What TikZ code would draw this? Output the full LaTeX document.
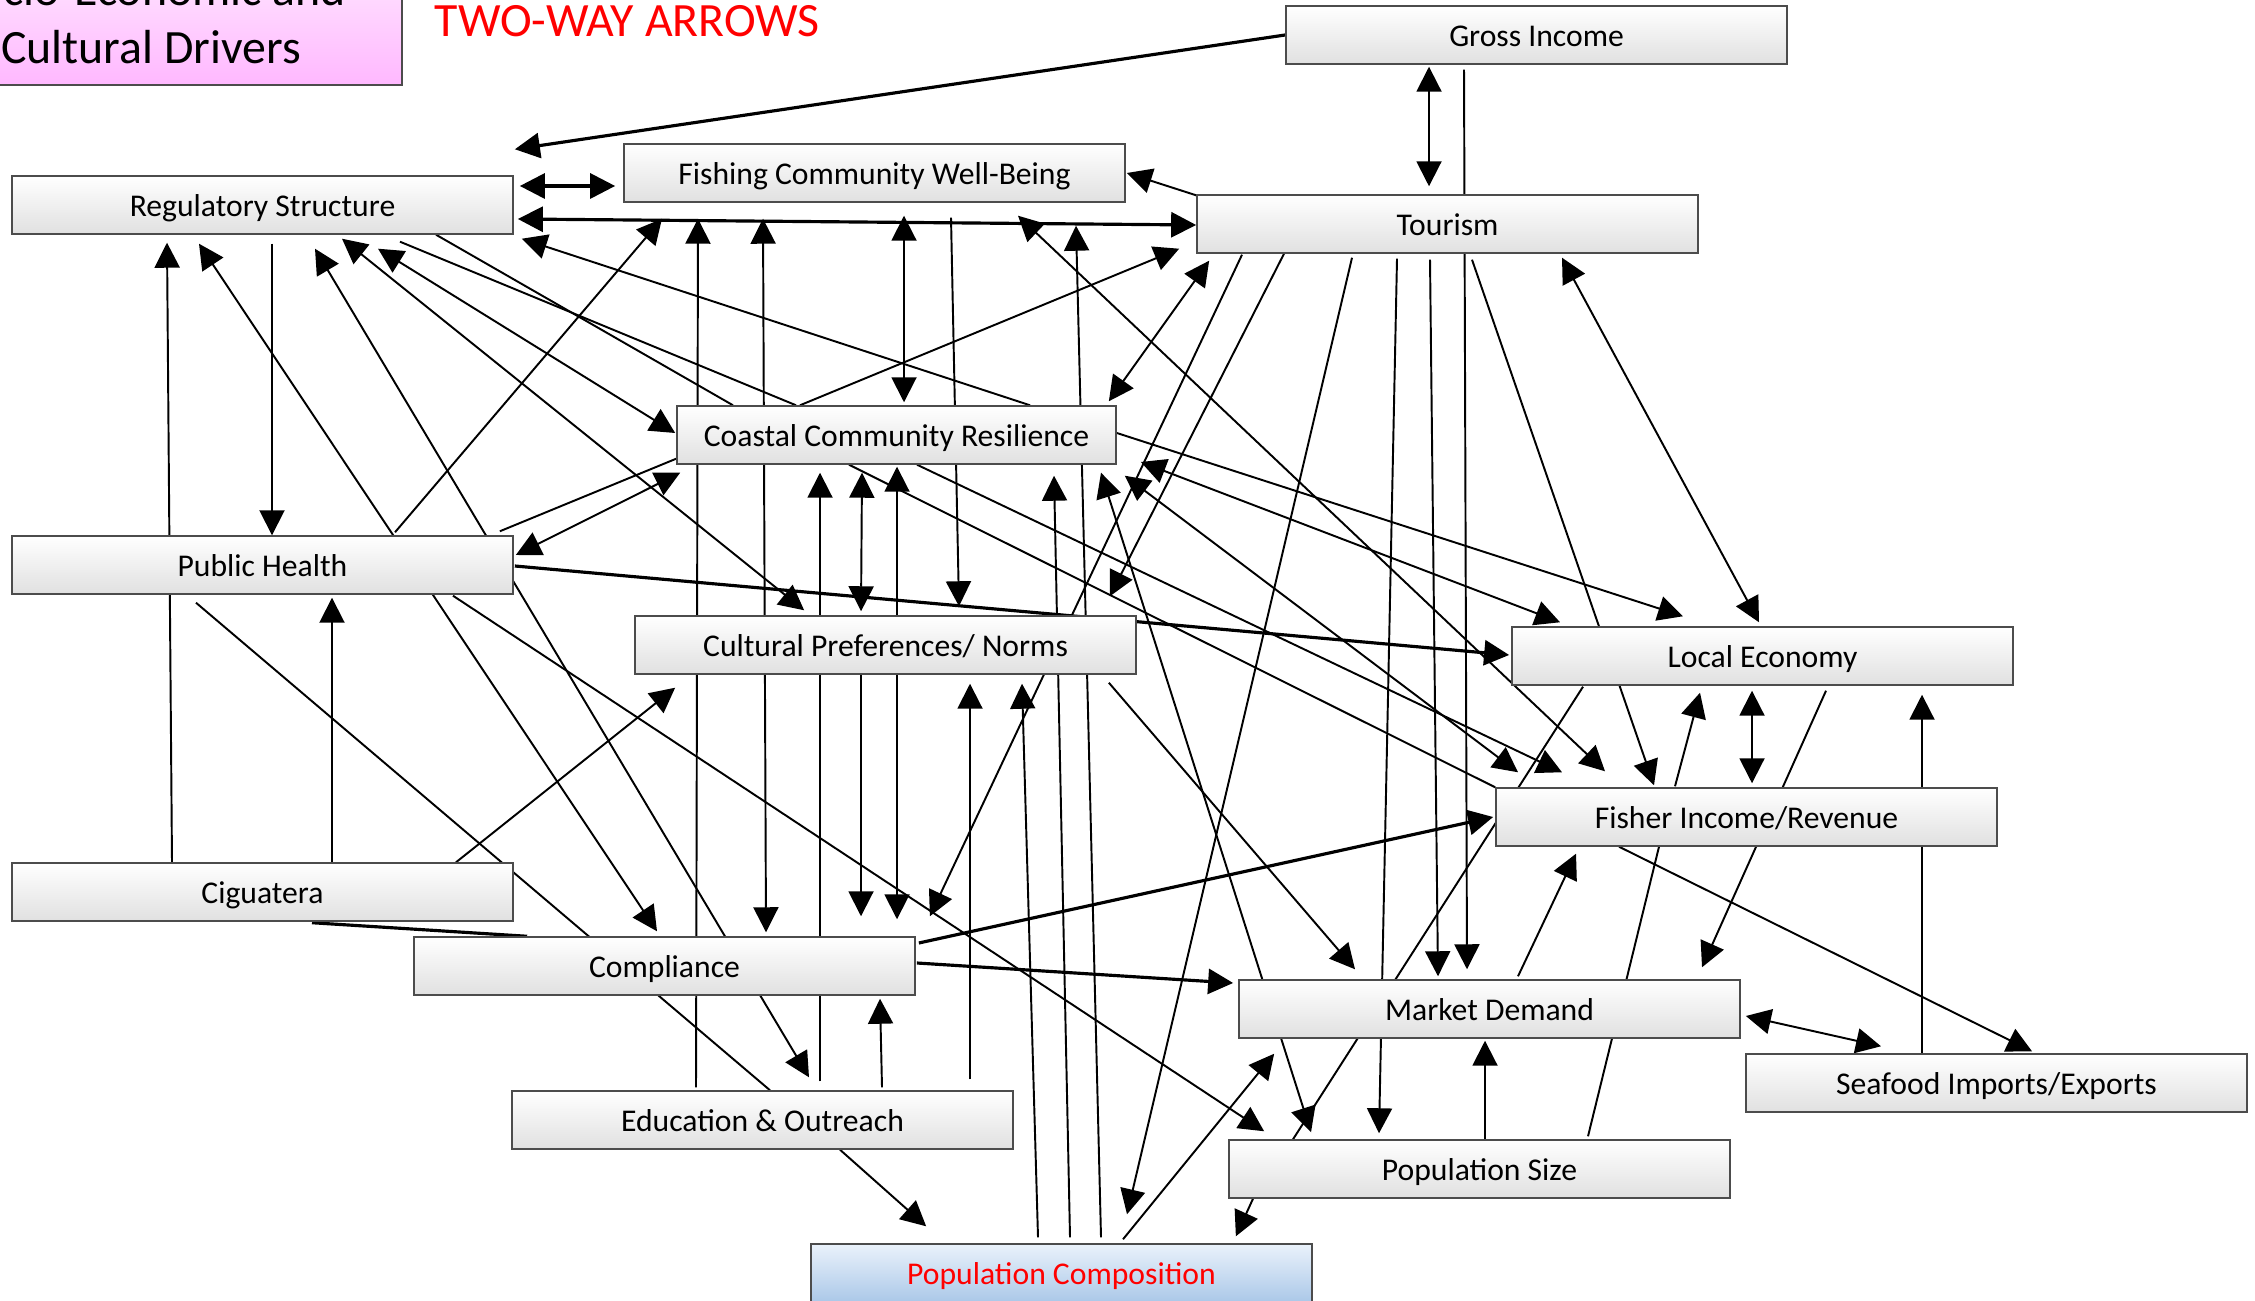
\documentclass[tikz,border=0pt]{standalone}
\usepackage{fontspec}
\setmainfont{Carlito}
\usetikzlibrary{arrows.meta,backgrounds}
\definecolor{pinktop}{HTML}{FFEAFF}
\definecolor{pinkbot}{HTML}{FFB8FF}
\definecolor{bluetop}{HTML}{EAF2FB}
\definecolor{bluebot}{HTML}{ABC8E8}

\begin{document}
\begin{tikzpicture}[
  x=0.01cm, y=-0.01cm,
  box/.style={rectangle, draw=black!70, top color=white, bottom color=black!12, minimum width=5.01cm, minimum height=0.58cm, inner sep=0pt, text height=0.8em, text depth=0.15em, font=\fontsize{9}{11}\selectfont},
  arrow/.style={-{Triangle[length=2.5mm,width=2.5mm]}, line width=0.55pt},
  twoway/.style={{Triangle[length=2.5mm,width=2.5mm]}-{Triangle[length=2.5mm,width=2.5mm]}, line width=0.55pt},
  link/.style={line width=0.55pt},
  heavy/.style={line width=0.9pt}
]
  \useasboundingbox (0,0) rectangle (2255,1301);
  \clip (0,0) rectangle (2255,1301);

  % Titre
  \node[rectangle, draw=black!70, top color=pinktop, bottom color=pinkbot, minimum width=5.02cm, minimum height=1.34cm, align=center, font=\fontsize{13.6}{16.5}\selectfont] (title) at (151,18) {Socio-Economic and\\Cultural Drivers};
  \node[anchor=base west, inner sep=0pt, text=red, font=\fontsize{13.6}{16}\selectfont] (note) at (434,37) {TWO-WAY ARROWS};

  % Boxes
  \node[box] (gross) at (1536.5,35) {Gross Income};
  \node[box] (reg) at (262.5,205) {Regulatory Structure};
  \node[box] (fish) at (874.5,173) {Fishing Community Well-Being};
  \node[box] (tour) at (1447.5,224) {Tourism};
  \node[box, minimum width=4.39cm] (coast) at (896.5,435) {Coastal Community Resilience};
  \node[box] (ph) at (262.5,565) {Public Health};
  \node[box] (cult) at (885.5,645) {Cultural Preferences/ Norms};
  \node[box] (loc) at (1762.5,656) {Local Economy};
  \node[box] (finc) at (1746.5,817) {Fisher Income/Revenue};
  \node[box] (cig) at (262.5,892) {Ciguatera};
  \node[box] (comp) at (664.5,966) {Compliance};
  \node[box] (md) at (1489.5,1009) {Market Demand};
  \node[box] (sea) at (1996.5,1083) {Seafood Imports/Exports};
  \node[box] (edu) at (762.5,1120) {Education \& Outreach};
  \node[box] (psize) at (1479.5,1169) {Population Size};
  \node[box, top color=bluetop, bottom color=bluebot, text=red] (pcomp) at (1061.5,1273) {Population Composition};

  \begin{scope}[on background layer]
  % Gross Income
  \draw[arrow, heavy] (gross.west) -- ([shift={(1,-26)}]reg.north east);
  \draw[twoway] ([shift={(-107.5,2)}]gross.south) -- ([shift={(-18.5,-8)}]tour.north);
  \draw[arrow] ([shift={(-72.5,5)}]gross.south) -- ([shift={(-22.5,-10)}]md.north);

  % Regulatory Structure
  \draw[twoway, heavy] ([shift={(6,-19)}]reg.east) -- ([shift={(-8,13)}]fish.west);
  \draw[twoway, heavy] ([shift={(4,14)}]reg.east) -- ([shift={(0,1)}]tour.west);
  \draw[arrow] ([shift={(9.5,9)}]reg.south) -- ([shift={(9.5,0)}]ph.north);
  \draw[twoway] ([shift={(-63.5,9)}]reg.south) -- ([shift={(-7.5,-5)}]comp.north);
  \draw[twoway] ([shift={(52.5,14)}]reg.south) -- ([shift={(46.5,-13)}]edu.north);
  \draw[twoway] ([shift={(79.5,4)}]reg.south) -- ([shift={(170,-5)}]cult.north west);
  \draw[twoway] ([shift={(115.5,14)}]reg.south) -- ([shift={(-1,-2)}]coast.west);
  \draw[link] ([shift={(173.5,0)}]reg.south) -- ([shift={(-163.5,0)}]coast.north);
  \draw[link] ([shift={(137.5,7)}]reg.south) -- ([shift={(-100.5,0)}]coast.north);

  % Fishing Community Well-Being
  \draw[arrow] ([shift={(3,2)}]tour.north west) -- ([shift={(1,0)}]fish.east);
  \draw[twoway] ([shift={(29.5,13)}]fish.south) -- ([shift={(7.5,-3)}]coast.north);
  \draw[arrow] ([shift={(76.5,15)}]fish.south) -- ([shift={(73.5,-9)}]cult.north);
  \draw[twoway] ([shift={(143.5,13)}]fish.south) -- ([shift={(-141.5,-16)}]finc.north);
  \draw[twoway] ([shift={(-111.5,16)}]fish.south) -- ([shift={(101.5,-4)}]comp.north);

  % Tourism
  \draw[arrow] ([shift={(-205.5,1)}]tour.south) -- ([shift={(14,-20)}]comp.north east);
  \draw[arrow] ([shift={(-163.5,0)}]tour.south) -- ([shift={(-27,-19)}]cult.north east);
  \draw[arrow] ([shift={(-95.5,4)}]tour.south) -- ([shift={(65.5,-29)}]pcomp.north);
  \draw[arrow] ([shift={(-50.5,5)}]tour.south) -- ([shift={(-100.5,-6)}]psize.north);
  \draw[arrow] ([shift={(-17.5,6)}]tour.south) -- ([shift={(-51.5,-3)}]md.north);
  \draw[arrow] ([shift={(24.5,6)}]tour.south) -- ([shift={(-92.5,-2)}]finc.north);
  \draw[twoway] ([shift={(114.5,4)}]tour.south) -- ([shift={(-3.5,-4)}]loc.north);

  % Coastal Community Resilience
  \draw[arrow] ([shift={(-96.5,0)}]coast.north) -- ([shift={(-17,-5)}]tour.south west);
  \draw[twoway] ([shift={(13,7)}]tour.south west) -- ([shift={(-8,-4)}]coast.north east);
  \draw[arrow] ([shift={(133.5,0)}]coast.north) -- ([shift={(8,4)}]reg.south east);
  \draw[twoway] ([shift={(-34.5,8)}]coast.south) -- ([shift={(-24.5,-4)}]cult.north);
  \draw[twoway] ([shift={(0.5,2)}]coast.south) -- ([shift={(232.5,-17)}]comp.north);
  \draw[twoway] ([shift={(204.5,8)}]coast.south) -- ([shift={(-168.5,-7)}]psize.north);
  \draw[arrow] ([shift={(0,-2)}]coast.east) -- ([shift={(-79.5,-10)}]loc.north);
  \draw[twoway] ([shift={(24,27)}]coast.east) -- ([shift={(-202.5,-4)}]loc.north);
  \draw[twoway] ([shift={(8,11)}]coast.south east) -- ([shift={(-228.5,-15)}]finc.north);
  \draw[link] ([shift={(-47.5,0)}]coast.south) -- (finc.north west);
  \draw[arrow] ([shift={(20.5,0)}]coast.south) -- ([shift={(-184.5,-15)}]finc.north);

  % Public Health
  \draw[arrow] ([shift={(132.5,-3)}]ph.north) -- ([shift={(-212.5,16)}]fish.south);
  \draw[link] ([shift={(-14,-4)}]ph.north east) -- ([shift={(0,-6)}]coast.south west);
  \draw[twoway] ([shift={(2,-10)}]ph.east) -- ([shift={(4,8)}]coast.south west);
  \draw[arrow, heavy] ([shift={(1,1)}]ph.east) -- ([shift={(-2,-1)}]loc.west);
  \draw[link] ([shift={(-66.5,8)}]ph.south) -- ([shift={(7.5,0)}]edu.north);
  \draw[arrow] ([shift={(190.5,1)}]ph.south) -- ([shift={(36,-8)}]psize.north west);

  % Cultural Preferences
  \draw[arrow] ([shift={(-24.5,0)}]cult.south) -- ([shift={(196.5,-20)}]comp.north);
  \draw[arrow] ([shift={(-28,8)}]cult.south east) -- ([shift={(-134.5,-10)}]md.north);

  % Ciguatera
  \draw[arrow] ([shift={(-90.5,0)}]cig.north) -- ([shift={(-95.5,8)}]reg.south);
  \draw[arrow] ([shift={(69.5,0)}]cig.north) -- ([shift={(69.5,3)}]ph.south);
  \draw[arrow] ([shift={(193.5,0)}]cig.north) -- ([shift={(41,13)}]cult.south west);
  \draw[link, heavy] ([shift={(49.5,1)}]cig.south) -- ([shift={(114,0)}]comp.north west);

  % Compliance
  \draw[arrow, heavy] ([shift={(3,-23)}]comp.east) -- ([shift={(-2,0)}]finc.west);
  \draw[arrow, heavy] ([shift={(1,-3)}]comp.east) -- ([shift={(-5,-26)}]md.west);

  % Education & Outreach
  \draw[arrow] ([shift={(-66.5,-3)}]edu.north) -- ([shift={(-176.5,16)}]fish.south);
  \draw[arrow] ([shift={(57.5,-9)}]edu.north) -- ([shift={(-76.5,8)}]coast.south);
  \draw[arrow] ([shift={(207.5,-11)}]edu.north) -- ([shift={(84.5,9)}]cult.south);
  \draw[arrow] ([shift={(119.5,-3)}]edu.north) -- ([shift={(215.5,3)}]comp.south);
  \draw[arrow] ([shift={(77.5,0)}]edu.south) -- ([shift={(116,-17)}]pcomp.north west);

  % Population Composition
  \draw[arrow] ([shift={(-23.5,-6)}]pcomp.north) -- ([shift={(136.5,9)}]cult.south);
  \draw[arrow] ([shift={(8.5,-6)}]pcomp.north) -- ([shift={(157.5,11)}]coast.south);
  \draw[arrow] ([shift={(39.5,-6)}]pcomp.north) -- ([shift={(201.5,23)}]fish.south);
  \draw[arrow] ([shift={(61.5,-4)}]pcomp.north) -- ([shift={(36,15)}]md.south west);

  % Local Economy, Fisher Income, Market Demand
  \draw[twoway] ([shift={(-10.5,5)}]loc.south) -- ([shift={(5.5,-4)}]finc.north);
  \draw[arrow] ([shift={(-71.5,-1)}]finc.north) -- ([shift={(-62.5,7)}]loc.south);
  \draw[link] ([shift={(-179.5,1)}]loc.south) -- ([shift={(-186.5,0)}]psize.north);
  \draw[arrow] ([shift={(63.5,5)}]loc.south) -- ([shift={(212.5,-12)}]md.north);
  \draw[link] ([shift={(-87.5,0)}]finc.south) -- ([shift={(108.5,-3)}]psize.north);
  \draw[arrow] ([shift={(28.5,-3)}]md.north) -- ([shift={(-170.5,7)}]finc.south);
  \draw[arrow] ([shift={(-127.5,0)}]finc.south) -- ([shift={(35.5,-2)}]sea.north);
  \draw[twoway] ([shift={(5,7)}]md.east) -- ([shift={(-115.5,-7)}]sea.north);
  \draw[arrow] ([shift={(-74.5,0)}]sea.north) -- ([shift={(159.5,9)}]loc.south);

  % Population Size
  \draw[arrow] ([shift={(5.5,0)}]psize.north) -- ([shift={(-4.5,2)}]md.south);
  \draw[arrow] ([shift={(-226.5,0)}]psize.south) -- ([shift={(-77,-7)}]pcomp.north east);
  \end{scope}
\end{tikzpicture}
\end{document}
